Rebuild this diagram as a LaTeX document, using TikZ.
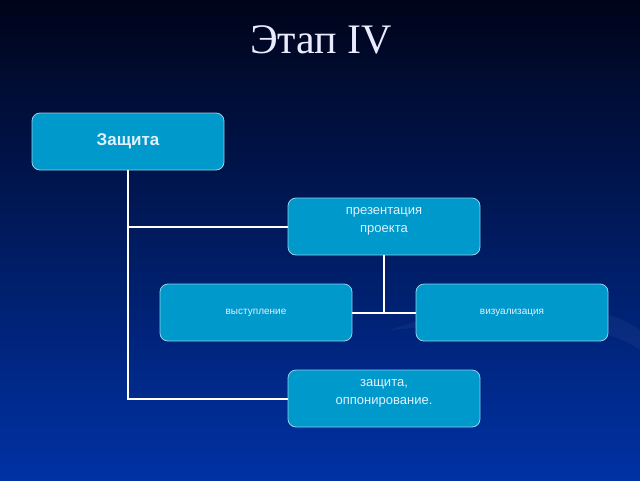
\documentclass[tikz,border=0pt]{standalone}
\usepackage{fontspec}
\setmainfont{Liberation Sans}
\newfontfamily\titlefont{Liberation Serif}
\usepackage{xcolor}

\definecolor{bgtop}{RGB}{0,4,26}
\definecolor{bgmid}{RGB}{0,36,132}
\definecolor{bgbottom}{RGB}{0,50,165}
\definecolor{boxfill}{RGB}{0,153,204}
\definecolor{boxline}{RGB}{150,205,235}
\definecolor{boxtext}{RGB}{225,240,250}

\tikzset{
  stage/.style={draw=boxline, line width=0.8pt, fill=boxfill, rounded corners=8pt,
    minimum width=192pt, minimum height=57pt, text=boxtext, align=center},
  toptext/.style={anchor=north, text=boxtext, align=center, yshift=-6pt,
    font=\fontsize{13}{18}\selectfont},
  link/.style={draw=white, line width=2pt},
}

\begin{document}
\begin{tikzpicture}[x=1pt,y=-1pt]
  % background
  \shade[top color=bgtop, middle color=bgmid, bottom color=bgbottom] (0,0) rectangle (640,480);
  \fill[white, opacity=0.04] (390,330) .. controls (500,290) and (600,300) .. (640,330)
    -- (640,350) .. controls (600,320) and (500,320) .. (390,330);

  % title
  \node[text=white!92!blue] (title) at (321,40) {\titlefont\fontsize{42}{48}\selectfont Этап IV};

  % boxes
  \node[stage, font=\bfseries\fontsize{17}{20}\selectfont] (prot) at (128,141.5) {Защита};
  \node[stage, label={[toptext]north:презентация\\проекта}] (pres) at (384,226.5) {};
  \node[stage, font=\fontsize{10}{12}\selectfont] (speech) at (256,312.5) {выступление};
  \node[stage, font=\fontsize{10}{12}\selectfont] (visual) at (512,312.5) {визуализация};
  \node[stage, label={[toptext]north:защита,\\оппонирование.}] (opp) at (384,398.5) {};

  % connectors
  \draw[link] (prot.south) |- (pres.west);
  \draw[link] (prot.south) |- (opp.west);
  \draw[link] (pres.south) -- (pres.south |- speech.east);
  \draw[link] (speech.east) -- (visual.west);
\end{tikzpicture}
\end{document}
